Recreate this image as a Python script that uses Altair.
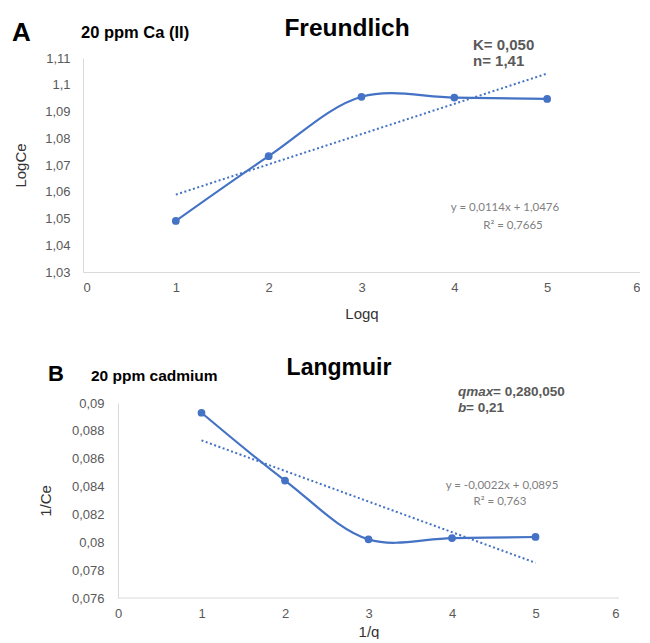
import altair as alt
import pandas as pd

# ---------------- data ----------------
logq = [1, 2, 3, 4, 5]
logce = [1.0491, 1.0733, 1.0955, 1.0952, 1.0947]

inv_q = [1, 2, 3, 4, 5]
inv_ce = [0.0893, 0.08443, 0.08021, 0.0803, 0.08038]

x_ticks = [0, 1, 2, 3, 4, 5, 6]
a_y_ticks = [1.03, 1.04, 1.05, 1.06, 1.07, 1.08, 1.09, 1.1, 1.11]
b_y_ticks = [0.076, 0.078, 0.08, 0.082, 0.084, 0.086, 0.088, 0.09]

BLUE = "#4472C4"
FONT = "Liberation Sans"
GRAY = "#595959"
EQ_GRAY = "#7f7f7f"

df_a = pd.DataFrame({"x": logq, "y": logce})
df_b = pd.DataFrame({"x": inv_q, "y": inv_ce})
one = pd.DataFrame({"k": [0]})

comma = "replace(toString(datum.value), '.', ',')"


def label(text, x, y, size, weight="normal", style="normal", color="#000000",
          align="left", font=FONT):
    return alt.Chart(one).mark_text(
        text=text, font=font, fontSize=size, fontWeight=weight, fontStyle=style,
        color=color, align=align, baseline="alphabetic"
    ).encode(x=alt.value(x), y=alt.value(y))


# ---------------- panel A ----------------
WA, HA = 557, 214
xa = alt.X("x:Q", scale=alt.Scale(domain=[0, 6], nice=False, zero=False),
           axis=alt.Axis(values=x_ticks, title="Logq", format="d", labelPadding=9,
                         titlePadding=12))
ya = alt.Y("y:Q", scale=alt.Scale(domain=[1.03, 1.11], nice=False, zero=False),
           axis=alt.Axis(values=a_y_ticks, title="LogCe", labelExpr=comma,
                         labelPadding=13, titlePadding=16))

base_a = alt.Chart(df_a)
line_a = base_a.mark_line(interpolate="catmull-rom", color=BLUE,
                          strokeWidth=2.2).encode(x=xa, y=ya)
pts_a = base_a.mark_circle(size=60, color=BLUE, opacity=1).encode(x=xa, y=ya)
trend_a = base_a.transform_regression("x", "y").mark_line(
    color=BLUE, strokeDash=[2, 2.5], strokeWidth=2).encode(x=xa, y=ya)

panel_a = alt.layer(
    trend_a, line_a, pts_a,
    label("A", -71, -17, 26, "bold"),
    label("20 ppm Ca (II)", -2, -20, 16.5, "bold"),
    label("Freundlich", 264, -22, 24.5, "bold", align="center"),
    label("K=  0,050", 390, -8, 15, "bold", color=GRAY),
    label("n= 1,41", 390, 8, 15, "bold", color=GRAY),
    label("y = 0,0114x + 1,0476", 422, 153, 11.5, color=EQ_GRAY, align="center", font="Lato"),
    label("R² = 0,7665", 430, 171, 11.5, color=EQ_GRAY, align="center", font="Lato"),
).properties(width=WA, height=HA)

# ---------------- panel B ----------------
WB, HB = 536, 195
SHIFT = 35  # px between the left edge of the plot area and x = 0
xmin_b = -SHIFT / ((WB - SHIFT) / 6)
xb = alt.X("x:Q", scale=alt.Scale(domain=[xmin_b, 6], nice=False, zero=False),
           axis=alt.Axis(values=x_ticks, title="1/q", format="d", domain=False,
                         labelPadding=9, titlePadding=4,
                         titleX=SHIFT + (WB - SHIFT) / 2))
yb = alt.Y("y:Q", scale=alt.Scale(domain=[0.076, 0.09], nice=False, zero=False),
           axis=alt.Axis(values=b_y_ticks, title="1/Ce", labelExpr=comma,
                         labelPadding=14, titlePadding=18, offset=-SHIFT))

base_b = alt.Chart(df_b)
xaxis_b = alt.Chart(one).mark_rule(color="#d9d9d9", strokeWidth=1).encode(
    x=alt.datum(0, scale=alt.Scale(domain=[xmin_b, 6], nice=False, zero=False)),
    x2=alt.datum(6), y=alt.value(HB))
line_b = base_b.mark_line(interpolate="catmull-rom", color=BLUE,
                          strokeWidth=2.2).encode(x=xb, y=yb)
pts_b = base_b.mark_circle(size=60, color=BLUE, opacity=1).encode(x=xb, y=yb)
trend_b = base_b.transform_regression("x", "y").mark_line(
    color=BLUE, strokeDash=[2, 2.5], strokeWidth=2).encode(x=xb, y=yb)

panel_b = alt.layer(
    trend_b, line_b, pts_b, xaxis_b,
    label("B", -35, -22, 22, "bold"),
    label("20 ppm cadmium", 8, -22, 15.5, "bold"),
    label("Langmuir", 256, -28, 23, "bold", align="center"),
    label("qmax", 375, -7, 13.5, "bold", style="italic", color=GRAY),
    label("=  0,280,050", 410, -7, 13.5, "bold", color=GRAY),
    label("b", 375, 9, 13.5, "bold", style="italic", color=GRAY),
    label("= 0,21", 383, 9, 13.5, "bold", color=GRAY),
    label("y = -0,0022x + 0,0895", 419, 86, 11.5, color=EQ_GRAY, align="center", font="Lato"),
    label("R² = 0,763", 417, 102, 11.5, color=EQ_GRAY, align="center", font="Lato"),
).properties(width=WB, height=HB)

chart = alt.vconcat(panel_a, panel_b, spacing=131, bounds="flush").properties(
    padding={"left": 4, "top": 8, "right": 0, "bottom": 0},
    background="white",
).configure_axis(
    domainColor="#d9d9d9", ticks=False, grid=False,
    labelColor=GRAY, labelFont=FONT, labelFontSize=13,
    titleFont=FONT, titleFontSize=15, titleFontWeight="normal", titleColor="#333333",
).configure_view(strokeWidth=0)

chart.save("out.html", embed_options={"renderer": "svg", "actions": False})
